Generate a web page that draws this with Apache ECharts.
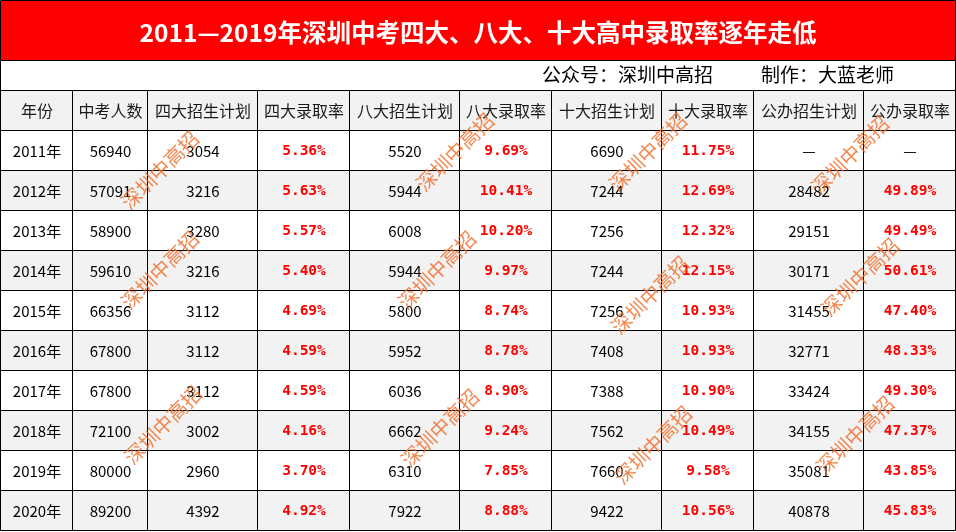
<!DOCTYPE html>
<html>
<head>
<meta charset="utf-8">
<script src="https://cdn.jsdelivr.net/npm/echarts@6/dist/echarts.min.js"></script>
<style>
  html, body { margin: 0; padding: 0; background: #fff; }
  #main { width: 956px; height: 532px; }
</style>
</head>
<body>
<div id="main"></div>
<script>
// 表头
const headers = ['年份', '中考人数', '四大招生计划', '四大录取率', '八大招生计划', '八大录取率', '十大招生计划', '十大录取率', '公办招生计划', '公办录取率']
const years = ['2011年', '2012年', '2013年', '2014年', '2015年', '2016年', '2017年', '2018年', '2019年', '2020年']
const examinees = [56940, 57091, 58900, 59610, 66356, 67800, 67800, 72100, 80000, 89200] //中考人数
const top4Plan = [3054, 3216, 3280, 3216, 3112, 3112, 3112, 3002, 2960, 4392]
const top4Rate = [5.36, 5.63, 5.57, 5.40, 4.69, 4.59, 4.59, 4.16, 3.70, 4.92]
const top8Plan = [5520, 5944, 6008, 5944, 5800, 5952, 6036, 6662, 6310, 7922]
const top8Rate = [9.69, 10.41, 10.20, 9.97, 8.74, 8.78, 8.90, 9.24, 7.85, 8.88]
const top10Plan = [6690, 7244, 7256, 7244, 7256, 7408, 7388, 7562, 7660, 9422]
const top10Rate = [11.75, 12.69, 12.32, 12.15, 10.93, 10.93, 10.90, 10.49, 9.58, 10.56]
const publicPlan = [null, 28482, 29151, 30171, 31455, 32771, 33424, 34155, 35081, 40878] //公办
const publicRate = [null, 49.89, 49.49, 50.61, 47.40, 48.33, 49.30, 47.37, 43.85, 45.83]

const titleText = '2011—2019年深圳中考四大、八大、十大高中录取率逐年走低'
const sourceText = '公众号：深圳中高招'
const authorText = '制作：大蓝老师'
const watermark = '深圳中高招'

// 列宽（布局）
const colEdges = [0, 72, 147, 257, 349, 459, 551, 661, 753, 863, 955]
// 水印位置（装饰）
const marks = [[160, 170], [455, 152], [648, 152], [850, 155], [160, 270], [437, 270], [650, 295],
  [860, 277], [163, 425], [440, 428], [653, 445], [855, 435]]

const fmtRate = v => v == null ? '—' : v.toFixed(2) + '%'
const fmtNum = v => v == null ? '—' : String(v)

//拼表格
const cells = []
headers.forEach((h, c) => cells.push({ value: [c, 0], text: h, kind: 'head' }))
years.forEach((y, i) => {
  const r = i + 1
  const row = [
    [y, 'num'],
    [fmtNum(examinees[i]), 'num'],
    [fmtNum(top4Plan[i]), 'num'],
    [fmtRate(top4Rate[i]), 'rate'],
    [fmtNum(top8Plan[i]), 'num'],
    [fmtRate(top8Rate[i]), 'rate'],
    [fmtNum(top10Plan[i]), 'num'],
    [fmtRate(top10Rate[i]), 'rate'],
    [fmtNum(publicPlan[i]), 'num'],
    [fmtRate(publicRate[i]), publicRate[i] == null ? 'num' : 'rate']
  ]
  row.forEach((it, c) => cells.push({ value: [c, r], text: it[0], kind: it[1] }))
})

const textStyleOf = kind => {
  if (kind === 'head') return { fill: '#1a1a1a', font: '16px "Noto Sans CJK SC"' }
  if (kind === 'rate') return { fill: '#ff0000', font: 'bold 14.5px "DejaVu Sans Mono"' }
  return { fill: '#000', font: '15px "Noto Sans CJK SC"' }
}

const renderCell = (params, api) => {
  const c = api.value(0)
  const r = api.value(1)
  const x0 = Math.round(api.coord([colEdges[c], r])[0])
  const x1 = Math.round(api.coord([colEdges[c + 1], r])[0])
  const yc = api.coord([0, r])[1]
  const h = api.size([0, 1])[1]
  const y0 = Math.round(yc - h / 2)
  const cell = cells[params.dataIndex]
  const ts = textStyleOf(cell.kind)
  return {
    type: 'group',
    children: [
      {
        type: 'rect',
        shape: { x: x0 + 0.5, y: y0 + 0.5, width: x1 - x0, height: Math.round(h) },
        style: { fill: r % 2 === 0 ? '#f2f2f2' : '#ffffff', stroke: '#000', lineWidth: 1 }
      },
      {
        type: 'text',
        x: (x0 + x1) / 2 + 1,
        y: yc + 1,
        style: { text: cell.text, fill: ts.fill, font: ts.font, align: 'center', verticalAlign: 'middle' }
      }
    ]
  }
}

const chart = echarts.init(document.getElementById('main'))
const option = {
  animation: false,
  title: [
    { text: titleText, left: 'center', top: 20, padding: 0,
      textStyle: { color: '#fff', fontSize: 24.5, fontWeight: 'bold', fontFamily: 'Noto Sans CJK SC' } },
    { text: sourceText, left: 542, top: 65, padding: 0,
      textStyle: { color: '#000', fontSize: 19, fontWeight: 'normal', fontFamily: 'Noto Sans CJK SC' } },
    { text: authorText, left: 761, top: 65, padding: 0,
      textStyle: { color: '#000', fontSize: 19, fontWeight: 'normal', fontFamily: 'Noto Sans CJK SC' } }
  ],
  grid: { left: 0, right: 1, top: 90, bottom: 2 },
  xAxis: { type: 'value', min: 0, max: 955, show: false },
  yAxis: { type: 'category', inverse: true, show: false, data: ['表头'].concat(years) },
  graphic: [
    { type: 'rect', z: -1, shape: { x: 0.5, y: 0.5, width: 955, height: 60 },
      style: { fill: '#ff0000', stroke: '#000', lineWidth: 1 } },
    { type: 'rect', z: -1, shape: { x: 0.5, y: 60.5, width: 955, height: 30 },
      style: { fill: '#fff', stroke: '#000', lineWidth: 1 } }
  ].concat(marks.map(p => ({
    type: 'text', z: 100, x: p[0], y: p[1], rotation: Math.PI / 4, silent: true,
    style: { text: watermark, fill: 'rgba(240,105,35,0.8)', font: '20px "Noto Sans CJK SC"',
      align: 'center', verticalAlign: 'middle' }
  }))),
  series: [{
    type: 'custom',
    renderItem: renderCell,
    data: cells.map(c => c.value),
    z: 2
  }]
}
chart.setOption(option)
</script>
</body>
</html>
